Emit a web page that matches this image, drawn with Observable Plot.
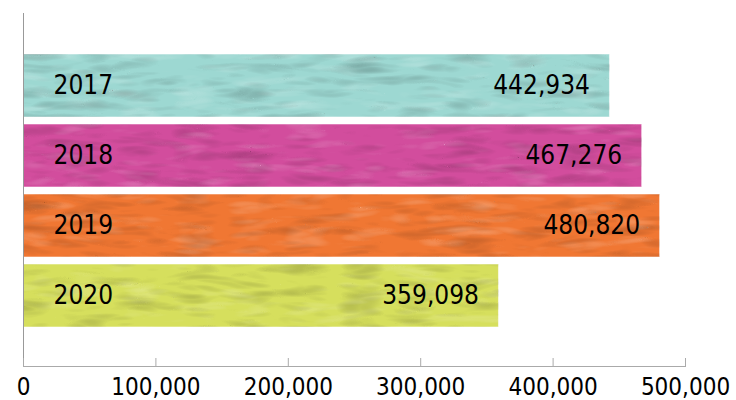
<!DOCTYPE html>
<html>
<head>
<meta charset="utf-8">
<script src="https://cdn.jsdelivr.net/npm/d3@7"></script>
<script src="https://cdn.jsdelivr.net/npm/@observablehq/plot@0.6"></script>
<style>
  html, body { margin: 0; padding: 0; background: #fff; }
  #chart svg { display: block; }
</style>
</head>
<body>
<div id="chart"></div>
<script>
const years = ["2017", "2018", "2019", "2020"];
const values = [442934, 467276, 480820, 359098];
const colors = ["#9dd8d2", "#d24d9d", "#f07733", "#d6df5d"];
const xTicks = [0, 100000, 200000, 300000, 400000, 500000];

const data = years.map((year, i) => ({year, value: values[i]}));
const FONT = "'DejaVu Sans Condensed', 'DejaVu Sans', sans-serif";
const fmt = d3.format(",");

const chart = Plot.plot({
  width: 736,
  height: 400,
  marginLeft: 23,
  marginRight: 51,
  marginTop: 13,
  marginBottom: 34,
  style: {fontFamily: FONT, background: "#fff", color: "#000"},
  x: {domain: [0, 500000]},
  y: {domain: years, range: [48.5, 331.5], paddingInner: 0.1, paddingOuter: 0.05, axis: null},
  color: {domain: years, range: colors},
  marks: [
    Plot.barX(data, {x: "value", y: "year", fill: "year", stroke: "#ffffff", strokeOpacity: 0.55, strokeWidth: 1}),
    Plot.text(data, {x: 0, y: "year", text: "year", textAnchor: "start", dx: 30, fontSize: 26, fill: "#000"}),
    Plot.text(data, {x: "value", y: "year", text: d => fmt(d.value), textAnchor: "end", dx: -20, fontSize: 26, fill: "#000"}),
    Plot.ruleX([0], {stroke: "#999", strokeWidth: 1}),
    Plot.frame({anchor: "bottom", stroke: "#aaa"}),
    Plot.tickX(xTicks, {x: d => d, stroke: "#aaa", insetTop: 345}),
    Plot.axisX({ticks: xTicks, tickFormat: d => fmt(d), tickSize: 0, tickPadding: 11, fontSize: 24, fill: "#000", label: null})
  ]
});

// subtle marbled texture on the bars
const svgNS = "http://www.w3.org/2000/svg";
const defs = document.createElementNS(svgNS, "defs");
defs.innerHTML = `
<filter id="tex" x="0" y="0" width="100%" height="100%" color-interpolation-filters="sRGB">
  <feTurbulence type="turbulence" baseFrequency="0.018 0.08" numOctaves="2" seed="4" result="n"/>
  <feColorMatrix in="n" type="matrix" values="0 0 0 0 1  0 0 0 0 1  0 0 0 0 1  0.45 0 0 0 -0.12" result="w"/>
  <feComposite in="w" in2="SourceGraphic" operator="in" result="wm"/>
  <feColorMatrix in="n" type="matrix" values="0 0 0 0 0  0 0 0 0 0  0 0 0 0 0  0 0.3 0 0 -0.06" result="b"/>
  <feComposite in="b" in2="SourceGraphic" operator="in" result="bm"/>
  <feMerge><feMergeNode in="SourceGraphic"/><feMergeNode in="wm"/><feMergeNode in="bm"/></feMerge>
</filter>`;
chart.insertBefore(defs, chart.firstChild);
chart.querySelectorAll('g[aria-label="bar"] rect').forEach(r => r.setAttribute("filter", "url(#tex)"));

document.getElementById("chart").append(chart);
</script>
</body>
</html>
